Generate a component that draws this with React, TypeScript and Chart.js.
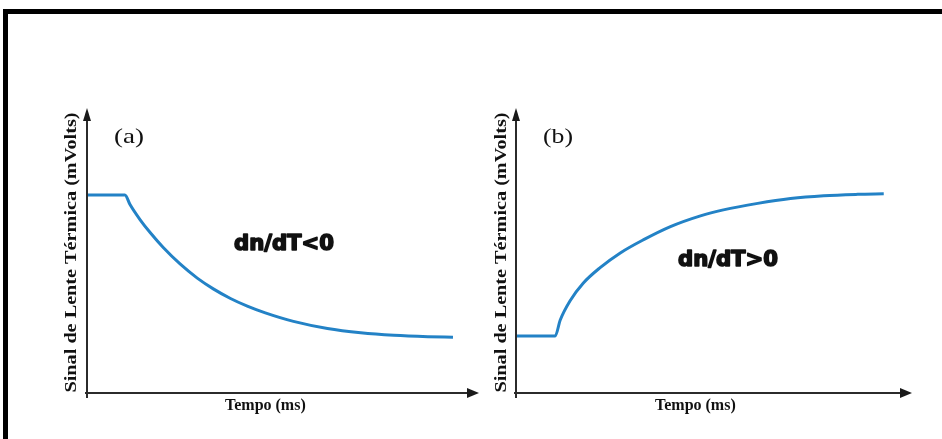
import React, { useEffect, useRef } from "react";
import { Chart, registerables } from "chart.js";

Chart.register(...registerables);

// ---- data ----
const yAxisTitle = "Sinal de Lente Térmica (mVolts)";
const xAxisTitle = "Tempo (ms)";
const panelLabels = ["(a)", "(b)"];
const signLabels = ["dn/dT<0", "dn/dT>0"];

const timeA = [0, 9.7, 11, 13.6, 16.2, 19.5, 23.8, 28.2, 32.3, 36.7, 41, 45.6, 52.8, 61.5, 70, 78.5, 87.2, 93.6];
const signalA = [70, 70, 66.6, 61.2, 56.6, 51.4, 45.6, 40.6, 36.8, 33.4, 30.7, 28.3, 25.3, 22.8, 21.3, 20.4, 19.9, 19.7];

const timeB = [0, 9.9, 11.2, 13.7, 17, 21.3, 26.4, 32.2, 39.1, 46.7, 52.5, 61.2, 69.5, 77.9, 86.5, 93.1];
const signalB = [20.1, 20.1, 25.8, 32.6, 38.8, 44.3, 49.5, 54.1, 58.8, 62.6, 64.7, 67.0, 68.7, 69.7, 70.2, 70.4];

const axisMin = 0;
const axisMax = 100;

type PanelCfg = {
  width: number;
  padding: { left: number; right: number; top: number; bottom: number };
  time: number[];
  signal: number[];
  panel: string;
  sign: string;
  yTitleX: number;
  panelPos: [number, number];
  signPos: [number, number];
  xTitleLeft: number;
};

function drawFitted(
  ctx: CanvasRenderingContext2D,
  text: string,
  cx: number,
  cy: number,
  font: string,
  width: number | null,
  rotate: boolean,
  heavy = 0
) {
  ctx.save();
  ctx.font = font;
  ctx.textAlign = "center";
  ctx.textBaseline = "middle";
  ctx.fillStyle = "#111";
  ctx.strokeStyle = "#111";
  const w = ctx.measureText(text).width;
  const sx = width ? width / w : 1;
  ctx.translate(cx, cy);
  if (rotate) ctx.rotate(-Math.PI / 2);
  ctx.scale(sx, 1);
  ctx.fillText(text, 0, 0);
  if (heavy > 0) {
    ctx.lineWidth = heavy;
    ctx.lineJoin = "round";
    ctx.strokeText(text, 0, 0);
  }
  ctx.restore();
}

function makeDecor(cfg: PanelCfg) {
  return {
    id: "decor",
    afterDraw(chart: any) {
      const ctx: CanvasRenderingContext2D = chart.ctx;
      const xs = chart.scales.x;
      const ys = chart.scales.y;
      const x0 = xs.getPixelForValue(axisMin);
      const x1 = xs.getPixelForValue(axisMax);
      const y0 = ys.getPixelForValue(axisMin);
      const y1 = ys.getPixelForValue(axisMax);
      ctx.save();
      ctx.strokeStyle = "#2b2b2b";
      ctx.fillStyle = "#1a1a1a";
      ctx.lineWidth = 2;
      // y axis
      ctx.beginPath();
      ctx.moveTo(x0, y0 + 5);
      ctx.lineTo(x0, y1 + 8);
      ctx.stroke();
      ctx.beginPath();
      ctx.moveTo(x0, y1 - 2);
      ctx.lineTo(x0 - 4, y1 + 11);
      ctx.lineTo(x0 + 4, y1 + 11);
      ctx.closePath();
      ctx.fill();
      // x axis
      ctx.beginPath();
      ctx.moveTo(x0 - 2, y0);
      ctx.lineTo(x1 - 8, y0);
      ctx.stroke();
      ctx.beginPath();
      ctx.moveTo(x1 + 1, y0);
      ctx.lineTo(x1 - 11, y0 - 5);
      ctx.lineTo(x1 - 11, y0 + 5);
      ctx.closePath();
      ctx.fill();
      ctx.restore();

      drawFitted(ctx, yAxisTitle, cfg.yTitleX, (y1 + y0) / 2 + 1, "bold 17px 'Liberation Serif'", 280, true);
      drawFitted(ctx, cfg.panel, cfg.panelPos[0], cfg.panelPos[1], "21px 'Liberation Serif'", 30, false);
      ctx.save();
      ctx.font = "bold 16px 'Liberation Serif'";
      ctx.fillStyle = "#111";
      ctx.textAlign = "left";
      ctx.textBaseline = "middle";
      ctx.fillText(xAxisTitle, cfg.xTitleLeft, 406);
      ctx.restore();
      drawFitted(ctx, cfg.sign, cfg.signPos[0], cfg.signPos[1], "bold 21px 'DejaVu Sans'", 100, false, 1.6);
    },
  };
}

function Panel({ cfg, left }: { cfg: PanelCfg; left: number }) {
  const ref = useRef<HTMLCanvasElement | null>(null);
  useEffect(() => {
    if (!ref.current) return;
    const chart = new Chart(ref.current, {
      type: "line",
      data: {
        datasets: [
          {
            data: cfg.time.map((t, i) => ({ x: t, y: cfg.signal[i] })),
            borderColor: "#2382c6",
            borderWidth: 3,
            pointRadius: 0,
            cubicInterpolationMode: "monotone",
            fill: false,
          },
        ],
      },
      options: {
        responsive: false,
        animation: false,
        layout: { padding: cfg.padding },
        scales: {
          x: { type: "linear", min: axisMin, max: axisMax, display: false },
          y: { type: "linear", min: axisMin, max: axisMax, display: false },
        },
        plugins: { legend: { display: false }, tooltip: { enabled: false } },
      },
      plugins: [makeDecor(cfg)],
    } as any);
    return () => chart.destroy();
  }, [cfg]);
  return (
    <canvas
      ref={ref}
      width={cfg.width}
      height={439}
      style={{ position: "absolute", left, top: 0, width: cfg.width, height: 439 }}
    />
  );
}

const panelA: PanelCfg = {
  width: 490,
  padding: { left: 87, right: 12, top: 110, bottom: 46 },
  time: timeA,
  signal: signalA,
  panel: panelLabels[0],
  sign: signLabels[0],
  yTitleX: 72,
  panelPos: [129, 137],
  signPos: [284, 245],
  xTitleLeft: 225,
};

const panelB: PanelCfg = {
  width: 452,
  padding: { left: 26, right: 31, top: 110, bottom: 46 },
  time: timeB,
  signal: signalB,
  panel: panelLabels[1],
  sign: signLabels[1],
  yTitleX: 12,
  panelPos: [558 - 490, 137],
  signPos: [728 - 490, 261],
  xTitleLeft: 655 - 490,
};

export default function App() {
  return (
    <div
      style={{
        position: "fixed",
        left: 0,
        top: 0,
        width: 942,
        height: 439,
        overflow: "hidden",
        background: "#fff",
      }}
    >
      <Panel cfg={panelA} left={0} />
      <Panel cfg={panelB} left={490} />
      <div
        style={{
          position: "absolute",
          left: 3,
          top: 9,
          width: 1000,
          height: 1000,
          borderTop: "5px solid #000",
          borderLeft: "5px solid #000",
          pointerEvents: "none",
        }}
      />
    </div>
  );
}
